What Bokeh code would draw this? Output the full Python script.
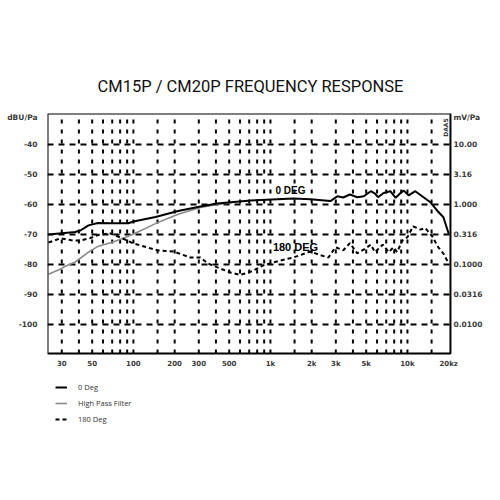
import math
from bokeh.plotting import figure
from bokeh.models import (Range1d, LinearAxis, FixedTicker, Label, Legend, LegendItem,
                          BoxAnnotation)
from bokeh.embed import file_html
from bokeh.resources import INLINE

# ---------------- data ----------------
freq_0deg = [24, 37.6, 41, 47, 55, 68, 92, 100, 145, 212, 308, 410, 715, 1470, 1960,
             2740, 3080, 3400, 3800, 4300, 4800, 5400, 5800, 6100, 6700, 7500, 8200,
             8900, 9400, 10200, 11400, 13100, 14700, 16500, 18300, 20000]
db_0deg = [-70, -69.2, -68.7, -67, -66.2, -66.3, -66.3, -65.7, -64.2, -62.2, -60.7,
           -59.7, -58.7, -58, -58.3, -58.9, -57.3, -57.7, -56.7, -57.6, -57.3, -55.6,
           -56.4, -57.6, -56.2, -55.6, -57.8, -56.2, -55.4, -57, -55.6, -57.6, -59.3,
           -62.1, -64.3, -69.8]

freq_hpf = [24, 29.4, 31.6, 37.6, 47, 55, 70, 87, 103, 145, 212, 308, 410, 520]
db_hpf = [-83.3, -81.5, -80.7, -79.2, -75.9, -74, -72.6, -71, -69.6, -66.4, -63.3,
          -61, -60, -59.4]

freq_180deg = [24, 29.4, 36, 41, 48, 57, 68, 80, 100, 150, 196, 260, 308, 350, 410,
               510, 600, 715, 890, 1180, 1470, 1960, 2300, 2650, 2980, 3400, 3800,
               4300, 4900, 5400, 5800, 6600, 7300, 7900, 8400, 9200, 10000, 11000,
               12400, 13500, 15200, 16800, 18300, 19800]
db_180deg = [-72.7, -71.3, -72, -72, -71.3, -70, -69.7, -71, -73, -75.3, -75.7, -77.7,
             -77.7, -79.7, -81, -82.7, -83.5, -82.5, -80.3, -78.7, -77.7, -75.7, -76.9,
             -77.7, -74.3, -75.3, -72.9, -76.3, -74.8, -73.4, -75.9, -73.4, -75.9,
             -74.3, -75.9, -72, -70.9, -67.3, -68.4, -67.9, -70.7, -74.3, -76.4, -79.3]

x_tick_freqs = [30, 50, 100, 200, 300, 500, 1000, 2000, 3000, 5000, 10000, 20000]
x_tick_labels = ["30", "50", "100", "200", "300", "500", "1k", "2k", "3k", "5k", "10k", "20kz"]
x_grid_freqs = [30, 40, 50, 60, 70, 80, 90, 100, 150, 200, 300, 400, 500, 600, 700, 800,
                900, 1000, 1500, 2000, 3000, 4000, 5000, 6000, 7000, 8000, 9000, 10000, 15000]

y_grid = [-40, -50, -60, -70, -80, -90, -100]
y_ticks = [-31, -40, -50, -60, -70, -80, -90, -100]
y_left_labels = ["dBU/Pa", "-40", "-50", "-60", "-70", "-80", "-90", "-100"]
y_right_labels = ["mV/Pa", "10.00", "3.16", "1.000", "0.316", "0.1000", "0.0316", "0.0100"]

title_text = "CM15P / CM20P FREQUENCY RESPONSE"
series_names = ["0 Deg", "High Pass Filter", "180 Deg"]

# chart box (data units); the frame extends right/below it for labels and legend
X_MIN, X_MAX = 23.6, 20600
X_FRAME_MAX = 36500
BOX_TOP, BOX_BOTTOM = -29.7, -109.7
Y_MIN = -139.7

# ---------------- figure ----------------
p = figure(width=484, height=484, x_axis_type="log",
           x_range=Range1d(X_MIN, X_FRAME_MAX), y_range=Range1d(Y_MIN, BOX_TOP),
           output_backend="svg", toolbar_location=None,
           min_border_left=47, min_border_right=0, min_border_top=113,
           min_border_bottom=41)
p.background_fill_color = "white"
p.border_fill_color = "white"
p.outline_line_color = None

p.title.text = title_text
p.title.align = "left"
p.title.offset = 50
p.title.text_font = "Roboto"
p.title.text_font_size = "16.5px"
p.title.text_font_style = "normal"
p.title.text_color = "#111111"
p.title.standoff = 35

LABEL_FONT = "DejaVu Sans"
LABEL_COLOR = "#3a3a3a"

def style_axis(ax, size="7px"):
    ax.axis_line_color = None
    ax.major_tick_line_color = None
    ax.minor_tick_line_color = None
    ax.major_tick_out = 0
    ax.major_tick_in = 0
    ax.minor_tick_out = 0
    ax.major_label_text_font = LABEL_FONT
    ax.major_label_text_font_size = size
    ax.major_label_text_font_style = "bold"
    ax.major_label_text_color = LABEL_COLOR

xa = p.xaxis[0]
xa.ticker = FixedTicker(ticks=x_tick_freqs)
xa.major_label_overrides = {f: l for f, l in zip(x_tick_freqs, x_tick_labels)}
xa.fixed_location = BOX_BOTTOM
style_axis(xa)
xa.major_label_standoff = 6

ya = p.yaxis[0]
ya.ticker = FixedTicker(ticks=y_ticks)
ya.major_label_overrides = {t: l for t, l in zip(y_ticks, y_left_labels)}
style_axis(ya, "7.5px")
ya.major_label_standoff = 10

yr = LinearAxis(ticker=FixedTicker(ticks=y_ticks),
                major_label_overrides={t: l for t, l in zip(y_ticks, y_right_labels)},
                fixed_location=X_MAX)
style_axis(yr, "7.5px")
yr.major_label_standoff = 3
p.add_layout(yr, "right")

# grid lines limited to the chart box
p.xgrid.visible = False
p.ygrid.visible = False
n = len(x_grid_freqs)
p.segment(x0=x_grid_freqs, y0=[BOX_BOTTOM] * n, x1=x_grid_freqs, y1=[BOX_TOP] * n,
          line_color="black", line_width=2, line_dash="4 6")
m = len(y_grid)
p.segment(x0=[X_MIN] * m, y0=y_grid, x1=[X_MAX] * m, y1=y_grid,
          line_color="black", line_width=2, line_dash="6 5")

p.add_layout(BoxAnnotation(left=X_MIN, right=X_MAX, top=BOX_TOP, bottom=BOX_BOTTOM,
                           fill_alpha=0, line_color="black", line_width=2,
                           line_alpha=1))

# curves
r_hpf = p.line(freq_hpf, db_hpf, line_color="#8a8a8a", line_width=1.6)
r_180 = p.line(freq_180deg, db_180deg, line_color="black", line_width=2, line_dash="4 3")
r_0 = p.line(freq_0deg, db_0deg, line_color="black", line_width=2)

# annotations (screen units relative to frame bottom-left)
FL, FB = 47, 443  # frame left / bottom in page px
def sx(px):
    return px - FL
def sy(py):
    return FB - py

p.add_layout(Label(x=sx(445), y=sy(127), x_units="screen", y_units="screen",
                   text="DAAS", text_align="center", text_baseline="middle",
                   angle=math.pi / 2,
                   text_font=LABEL_FONT, text_font_size="6px",
                   text_font_style="bold", text_color=LABEL_COLOR))
p.add_layout(Label(x=sx(290), y=sy(190), x_units="screen", y_units="screen",
                   text="0 DEG", text_align="center", text_baseline="middle",
                   text_font="Liberation Sans", text_font_size="10px",
                   text_font_style="bold", text_color="black"))
p.add_layout(Label(x=sx(295), y=sy(246), x_units="screen", y_units="screen",
                   text="180 DEG", text_align="center", text_baseline="middle",
                   text_font="Liberation Sans", text_font_size="11px",
                   text_font_style="bold", text_color="black"))

legend = Legend(items=[LegendItem(label=series_names[0], renderers=[r_0]),
                       LegendItem(label=series_names[1], renderers=[r_hpf]),
                       LegendItem(label=series_names[2], renderers=[r_180])],
                location=(sx(55), sy(425)), orientation="vertical")
legend.background_fill_alpha = 0
legend.border_line_color = None
legend.padding = 0
legend.margin = 0
legend.spacing = 4
legend.glyph_width = 12
legend.glyph_height = 12
legend.label_height = 12
legend.label_standoff = 11
legend.label_text_font = "Open Sans"
legend.label_text_font_size = "7.5px"
legend.label_text_color = "#333333"
p.add_layout(legend, "center")

open("out.html", "w").write(file_html(p, INLINE))
